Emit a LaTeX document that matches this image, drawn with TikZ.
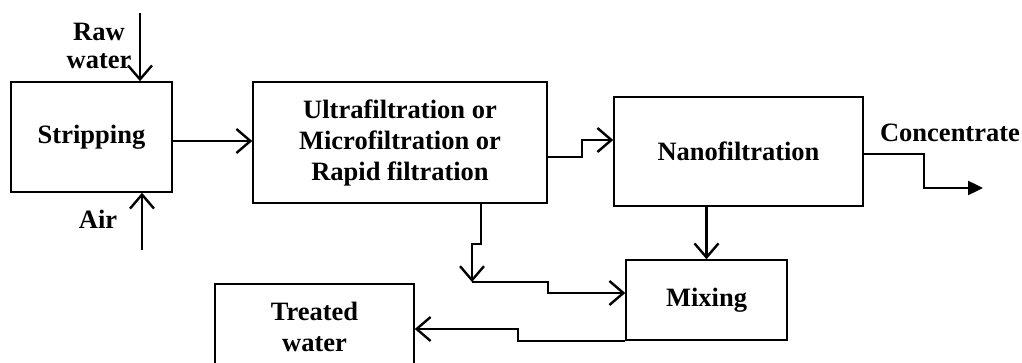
\documentclass[tikz,border=0pt]{standalone}
\usepackage{fontspec}
\setmainfont{Liberation Serif}
\usetikzlibrary{arrows.meta}

\begin{document}
\begin{tikzpicture}[x=1pt,y=-1pt,every node/.style={font=\fontsize{26.5}{31}\selectfont\bfseries}]
  \tikzstyle{unit}=[draw, line width=1.5pt, inner sep=0pt, align=center]
  \tikzstyle{flow}=[line width=2.4pt, -{Straight Barb[length=14pt,width=24pt,line width=2.4pt]}]
  \tikzstyle{reject}=[line width=2.4pt, -{Triangle[length=15pt,width=14pt]}]

\useasboundingbox (0,0) rectangle (1022,363);

\node [unit, minimum width=161, minimum height=110] (strip) at (91.5,137) {Stripping};
\node [unit, minimum width=294, minimum height=121] (uf) at (400,142.5)
  {Ultrafiltration or\\Microfiltration or\\Rapid filtration};
\node [unit, minimum width=249, minimum height=109] (nf) at (738.5,151.5) {Nanofiltration};
\node [unit, minimum width=161, minimum height=80] (mix) at (706.5,300) {Mixing};
\node [unit, minimum width=199, minimum height=85] (tw) at (314.5,326.5) {Treated\\water};

\node [align=center] (raw) at (99,46) {Raw\\[-3pt]water};
\node (air) at (98,219) {Air};
\node (conc) at (950,133) {Concentrate};

\coordinate (rawin) at (140,13);
\coordinate (airin) at (142,250);
\coordinate (concout) at (983,188);
\coordinate (junc) at (472,282);

\draw[flow] (rawin) -- (rawin |- strip.north);
\draw[flow] (airin) -- (airin |- strip.south);
\draw[flow] (strip.east |- 0,141) -- (uf.west |- 0,141);
\draw[flow] (uf.east |- 0,157) -- ++(34,0) |- (nf.west |- 0,140);
\draw[reject] (nf.east |- 0,154) -- ++(60,0) |- (concout);
\draw[flow] (mix.north |- nf.south) -- (mix.north);

% split stream from the first filter
\draw[flow] (uf.south -| 481,0) -- ++(0,40) -| (junc);
\draw[flow] (junc) -- ++(76,0) |- (mix.west |- 0,293);

\draw[flow] (mix.south west) -- ++(-107,0) |- (tw.east |- 0,329);

\end{tikzpicture}
\end{document}
